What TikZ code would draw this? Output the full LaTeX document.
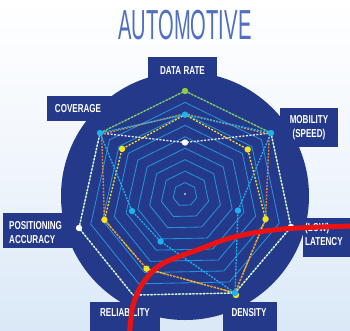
\documentclass[tikz,border=0pt]{standalone}
\usepackage{fontspec}
\setmainfont{Liberation Sans}
\usetikzlibrary{calc}
\definecolor{navy}{RGB}{36,57,138}
\definecolor{ringc}{RGB}{38,145,215}
\definecolor{titlec}{RGB}{80,112,190}
\definecolor{cyanc}{RGB}{30,178,238}
\definecolor{yelc}{RGB}{248,228,30}
\definecolor{orac}{RGB}{226,140,60}
\definecolor{grnc}{RGB}{150,205,60}
\definecolor{whc}{RGB}{236,236,242}
\definecolor{redc}{RGB}{236,18,18}
\definecolor{bgb}{RGB}{218,232,247}
\newcommand\lblc[1]{\scalebox{0.7}[1]{\begin{tabular}{@{}c@{}}#1\end{tabular}}}
\newcommand\lbll[1]{\scalebox{0.7}[1]{\begin{tabular}{@{}l@{}}#1\end{tabular}}}
\newcommand\radarpoly[8]{\draw[#1] ($(C)!#2!(vDR)$) -- ($(C)!#3!(vMO)$) -- ($(C)!#4!(vLA)$) -- ($(C)!#5!(vDE)$) -- ($(C)!#6!(vRE)$) -- ($(C)!#7!(vPO)$) -- ($(C)!#8!(vCO)$) -- cycle;}
\newcommand\rdot[3]{\fill[#1] ($(C)!#2!(#3)$) circle (3.2pt);}
\begin{document}
\begin{tikzpicture}[x=1pt,y=-1pt,
  lbl/.style={text=white, font=\fontsize{11.5}{14}\selectfont\bfseries, inner sep=0pt},
  boxc/.style={fill=navy},
  ring/.style={draw=ringc, line width=0.85pt},
  ser/.style={line width=1.3pt, dash pattern=on 2pt off 1.5pt, line join=round},
]
\useasboundingbox (0,0) rectangle (350,330);
\begin{scope}
\clip (0,0) rectangle (350,330);
\shade[top color=white, bottom color=bgb, middle color=white!60!bgb] (0,0) rectangle (350,330);

% title
\node[text=titlec, inner sep=0pt] (title) at (185,25) {\scalebox{0.48}[1]{\fontsize{42}{42}\selectfont AUTOMOTIVE}};

% disk and label boxes
\fill[navy] (185,196) circle (124pt);
\fill[boxc] (148,57) rectangle (217,82);
\fill[boxc] (47,96) rectangle (122,121);
\fill[boxc] (280,108) rectangle (338,147);
\fill[boxc] (3,213) rectangle (78,248);
\fill[boxc] (303,218) rectangle (352,257);
\fill[boxc] (90,302) rectangle (160,332);
\fill[boxc] (223,302) rectangle (277,332);

\node[lbl] (ldr) at (182.5,71.5) {\lblc{DATA RATE}};
\node[lbl] (lco) at (78,110) {\lblc{COVERAGE}};
\node[lbl] (lmo) at (309,127.5) {\lblc{MOBILITY\\(SPEED)}};
\node[lbl, anchor=west] (lpo) at (9,233.5) {\lbll{POSITIONING\\ACCURACY}};
\node[lbl, anchor=west] (lla) at (305,236) {\lbll{(LOW)\\LATENCY}};
\node[lbl] (lre) at (125,314) {\lblc{RELIABILITY}};
\node[lbl] (lde) at (249,314) {\lblc{DENSITY}};

% axes vertices
\coordinate (C) at (185,194);
\coordinate (vDR) at (185,91);
\coordinate (vMO) at (271,133);
\coordinate (vLA) at (291,227);
\coordinate (vDE) at (235,293);
\coordinate (vRE) at (133,295);
\coordinate (vPO) at (79,228);
\coordinate (vCO) at (100,133);

% rings
\foreach \k in {1,...,9}{
  \radarpoly{ring}{\k/9}{\k/9}{\k/9}{\k/9}{\k/9}{\k/9}{\k/9}
}
\fill[whc!80!navy] (C) circle (1.1pt);

% series
\radarpoly{ser, grnc}{1}{1}{1}{1}{1}{1}{1}
\radarpoly{ser, whc, dash phase=1.7pt}{0.5}{1}{1}{1}{1}{1}{1}
\radarpoly{ser, yelc, dash phase=1.5pt}{0.77}{0.73}{0.76}{1}{0.74}{0.76}{0.74}
\radarpoly{ser, orac, line width=1.4pt, dash pattern=on 1.8pt off 1.4pt}{0.78}{0.98}{0.76}{1}{0.74}{0.76}{0.98}
\radarpoly{ser, cyanc, dash pattern=on 2pt off 1.2pt}{0.77}{1}{0.5}{1}{0.47}{0.5}{1}

% dots
\rdot{grnc}{1}{vDR}
\rdot{white}{0.5}{vDR}
\rdot{white}{1}{vLA}
\rdot{white}{1}{vPO}
\rdot{yelc}{0.73}{vMO}
\rdot{yelc}{0.76}{vLA}
\rdot{yelc}{1.02}{vDE}
\rdot{yelc}{0.74}{vRE}
\rdot{yelc}{0.76}{vPO}
\rdot{yelc}{0.74}{vCO}
\rdot{cyanc}{0.77}{vDR}
\rdot{cyanc}{1}{vMO}
\rdot{cyanc}{0.5}{vLA}
\rdot{cyanc}{1}{vDE}
\rdot{cyanc}{0.47}{vRE}
\rdot{cyanc}{0.5}{vPO}
\rdot{cyanc}{1}{vCO}

% red annotation curve
\draw[redc, line width=5pt, line cap=round] plot[smooth, tension=0.6] coordinates {(129,340) (131,318) (134,302) (143,283) (162,264) (200,249) (234,237) (283,229) (355,226)};
\end{scope}
\end{tikzpicture}
\end{document}
